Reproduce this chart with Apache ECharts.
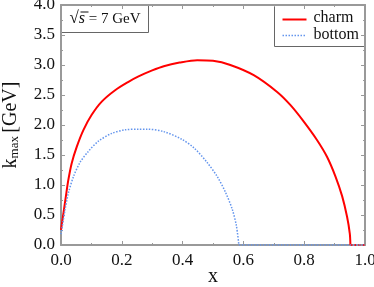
<!DOCTYPE html>
<html><head><meta charset="utf-8">
<script src="https://cdn.jsdelivr.net/npm/echarts@6/dist/echarts.min.js"></script>
<style>html,body{margin:0;padding:0;background:#fff}#c{width:374px;height:287px}</style>
</head><body><div id="c"></div>
<script>
const charmX = [0, 0.008, 0.016, 0.024, 0.035, 0.052, 0.074, 0.101, 0.134, 0.178, 0.222, 0.255, 0.3, 0.338, 0.39, 0.448, 0.5, 0.557, 0.634, 0.711, 0.755, 0.798, 0.842, 0.875, 0.903, 0.925, 0.941, 0.95, 0.952];
const charmY = [0.25, 0.53, 0.81, 1.08, 1.36, 1.64, 1.92, 2.17, 2.39, 2.58, 2.72, 2.81, 2.91, 2.98, 3.04, 3.08, 3.07, 3.0, 2.83, 2.55, 2.33, 2.06, 1.75, 1.47, 1.14, 0.81, 0.47, 0.19, 0];
const charmTailX = [0.952, 1.0];
const charmTailY = [0, 0];
const bottomX = [0, 0.013, 0.024, 0.041, 0.063, 0.09, 0.123, 0.167, 0.211, 0.255, 0.283, 0.338, 0.398, 0.437, 0.48, 0.514, 0.541, 0.563, 0.577, 0.585];
const bottomY = [0.18, 0.58, 0.86, 1.14, 1.38, 1.56, 1.73, 1.86, 1.92, 1.93, 1.93, 1.89, 1.76, 1.62, 1.38, 1.14, 0.88, 0.6, 0.32, 0];
const bottomTailX = [0.585, 1.0];
const bottomTailY = [0, 0];
const seriesNames = ['charm', 'bottom'];

const font = "'Liberation Serif', 'DejaVu Serif', serif";
const axisCol = '#999999';
const red = '#ff0000';
const blue = '#6495ed';
const chart = echarts.init(document.getElementById('c'));
const pairs = (xs, ys) => xs.map((x, i) => [x, ys[i]]);
const baseAxis = {
  type: 'value',
  axisLine: { show: true, onZero: false, lineStyle: { color: axisCol, width: 2 } },
  axisTick: { show: true, inside: true, length: 4, lineStyle: { color: axisCol, width: 1 } },
  minorTick: { show: true, splitNumber: 2, length: 2, lineStyle: { color: axisCol } },
  splitLine: { show: false }
};
const lbl = { fontFamily: font, fontSize: 17, color: '#111' };
chart.setOption({
  animation: false,
  grid: { left: 61, right: 9, top: 5, bottom: 42, containLabel: false, outerBoundsMode: 'none' },
  xAxis: [
    Object.assign({}, baseAxis, {
      min: 0, max: 1, interval: 0.2, position: 'bottom',
      name: 'x', nameLocation: 'middle', nameGap: 22, nameMoveOverlap: false,
      nameTextStyle: { fontFamily: font, fontSize: 20, color: '#111' },
      axisLabel: Object.assign({ margin: 7, formatter: v => v.toFixed(1) }, lbl)
    }),
    Object.assign({}, baseAxis, {
      min: 0, max: 1, interval: 0.2, position: 'top', axisLabel: { show: false }
    })
  ],
  yAxis: [
    Object.assign({}, baseAxis, {
      min: 0, max: 4, interval: 0.5, position: 'left',
      name: '{k|k}{s|max} {k|[GeV]}', nameLocation: 'middle', nameGap: 40, nameRotate: 90, nameMoveOverlap: false,
      nameTextStyle: { rich: { k: { fontFamily: font, fontSize: 20, color: '#111' }, s: { fontFamily: font, fontSize: 13, color: '#111', padding: [8, 0, 0, 0] } } },
      axisLabel: Object.assign({ margin: 6, formatter: v => v.toFixed(1) }, lbl)
    }),
    Object.assign({}, baseAxis, {
      min: 0, max: 4, interval: 0.5, position: 'right', axisLabel: { show: false }
    })
  ],
  graphic: [{
    type: 'group', left: 61, top: 5, z: 10,
    children: [
      { type: 'rect', shape: { x: 0, y: 0, width: 87, height: 27 }, style: { fill: '#fff', stroke: '#666', lineWidth: 1 } },
      { type: 'text', x: 8, y: 5, style: { text: '{r|√}{i|s}{n| = 7 GeV}',
        rich: { r: { fontFamily: font, fontSize: 17, fill: '#111' }, i: { fontFamily: font, fontStyle: 'italic', fontSize: 16, fill: '#111' }, n: { fontFamily: font, fontSize: 15, fill: '#111' } } } },
      { type: 'line', shape: { x1: 19, y1: 6.5, x2: 27, y2: 6.5 }, style: { stroke: '#111', lineWidth: 1 } }
    ]
  }, {
    type: 'group', right: 9, top: 5, z: 10,
    children: [
      { type: 'rect', shape: { x: 0, y: 0, width: 90, height: 41 }, style: { fill: '#fff', stroke: '#666', lineWidth: 1 } },
      { type: 'line', shape: { x1: 8, y1: 14, x2: 32, y2: 14 }, style: { stroke: red, lineWidth: 2 } },
      { type: 'text', x: 39, y: 4, style: { text: seriesNames[0], font: '16px ' + font, fill: '#111' } },
      { type: 'line', shape: { x1: 8, y1: 30, x2: 32, y2: 30 }, style: { stroke: blue, lineWidth: 1.5, lineDash: [1.5, 1.5] } },
      { type: 'text', x: 39, y: 21, style: { text: seriesNames[1], font: '16px ' + font, fill: '#111' } }
    ]
  }],
  series: [
    { name: seriesNames[0], type: 'line', data: pairs(charmX, charmY), showSymbol: false, smooth: 0.3,
      lineStyle: { color: red, width: 2 }, z: 3 },
    { name: seriesNames[0], type: 'line', data: pairs(charmTailX, charmTailY), showSymbol: false,
      lineStyle: { color: red, width: 2, type: [2, 2] }, z: 3 },
    { name: seriesNames[1], type: 'line', data: pairs(bottomX, bottomY), showSymbol: false, smooth: 0.3,
      lineStyle: { color: blue, width: 1.5, type: [1.5, 1.5] }, z: 4 },
    { name: seriesNames[1], type: 'line', data: pairs(bottomTailX, bottomTailY), showSymbol: false,
      lineStyle: { color: blue, width: 1.5, type: [1.5, 1.5] }, z: 4 }
  ]
});
</script></body></html>
